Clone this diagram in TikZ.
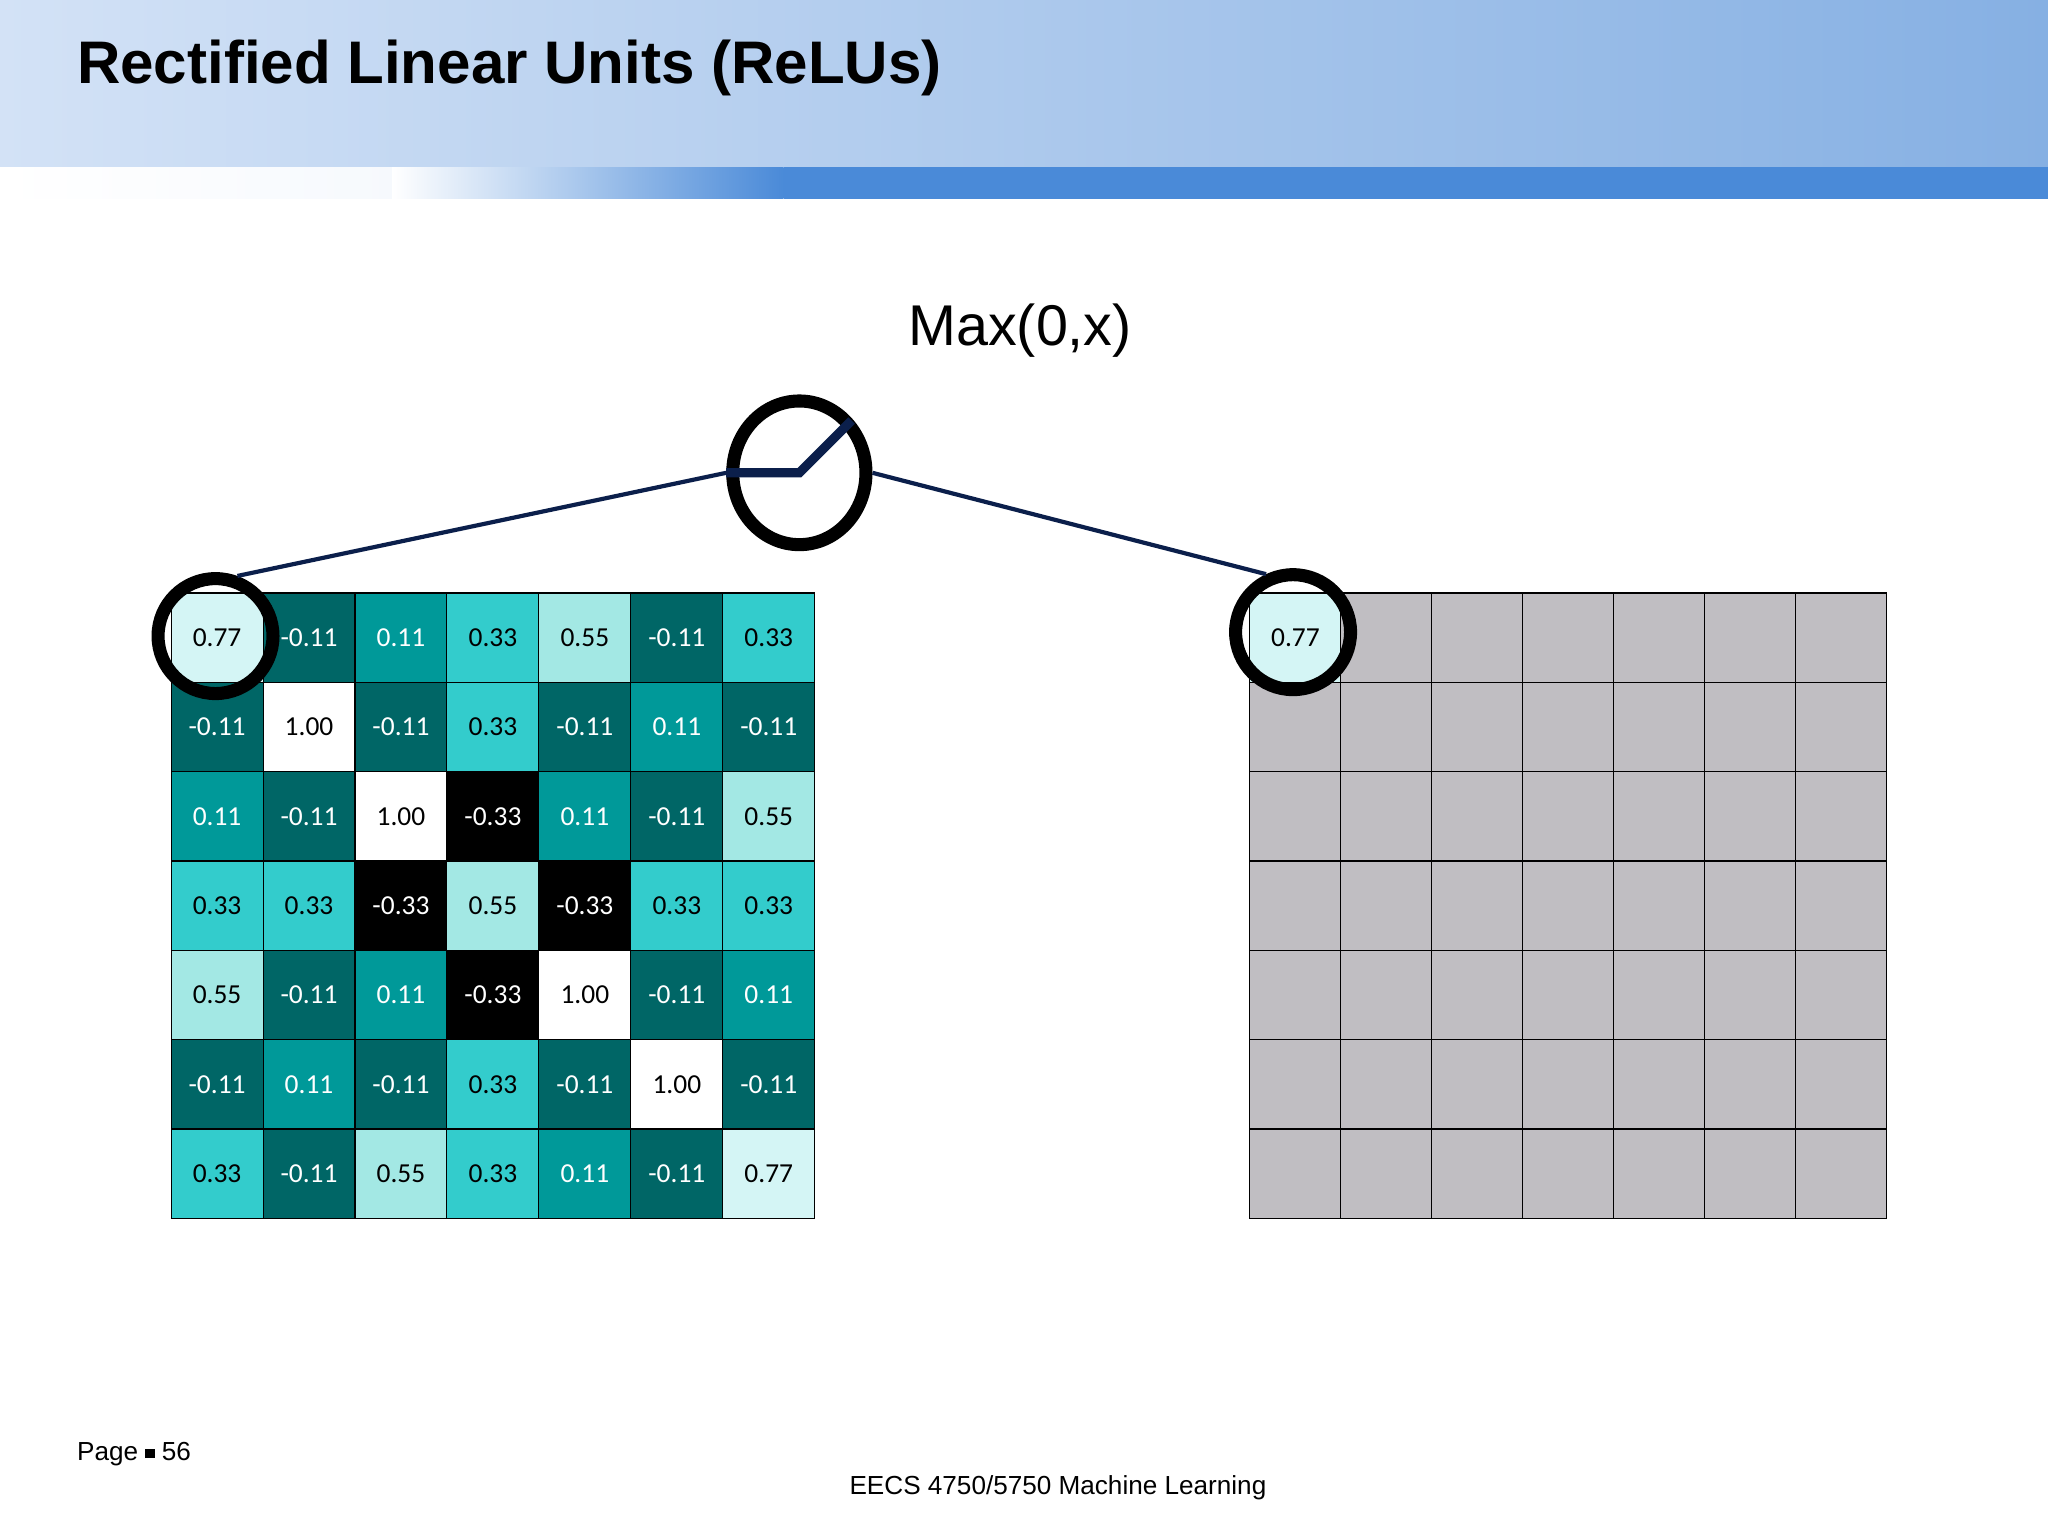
\documentclass[tikz,border=0pt]{standalone}
\usepackage{fontspec}
\setmainfont{Liberation Sans}
\newfontfamily\cellfont{Carlito}
\usetikzlibrary{shapes.geometric}
\begin{document}
\begin{tikzpicture}[x=0.5pt,y=-0.5pt,
  cellbox/.style={draw=black,line width=0.4pt,minimum width=35.2pt,minimum height=34.2pt,inner sep=0,font=\cellfont\fontsize{10.5}{12}\selectfont},
  graybox/.style={draw=black,line width=0.4pt,fill=cgray,minimum width=34.8pt,minimum height=34.2pt,inner sep=0},
  ring/.style={draw=black,line width=5pt},
  wire/.style={draw=navy,line width=1.6pt}]
\definecolor{cdark}{HTML}{006666}
\definecolor{cmid}{HTML}{009999}
\definecolor{clt}{HTML}{33CCCC}
\definecolor{cpale}{HTML}{A3E8E4}
\definecolor{cvpale}{HTML}{D4F5F5}
\definecolor{cgray}{HTML}{C0BEC2}
\definecolor{navy}{HTML}{0B1F4B}
\definecolor{hl}{HTML}{D3E2F6}
\definecolor{hr}{HTML}{86B0E3}
\definecolor{sb}{HTML}{4A8AD8}
\useasboundingbox (0,0) rectangle (1568,1176);
\fill[white] (0,0) rectangle (1568,1176);
\shade[left color=hl,right color=hr] (0,0) rectangle (1568,128);
\fill[sb] (600,128) rectangle (1568,152);
\shade[left color=white,right color=sb] (300,128) rectangle (600,152);
\shade[left color=white,right color=white!80!hl] (0,128) rectangle (300,152);
\node[anchor=west,font=\bfseries\fontsize{23}{26}\selectfont] (title) at (52,52) {Rectified Linear Units (ReLUs)};
\node[font=\fontsize{22}{26}\selectfont] (maxl) at (781,253) {Max(0,x)};
\node[anchor=west,font=\fontsize{10}{12}\selectfont] (page) at (52,1113) {Page \raisebox{0.15ex}{\rule{3.5pt}{3.5pt}} 56};
\node[font=\fontsize{10}{12}\selectfont] (foot) at (810,1139) {EECS 4750/5750 Machine Learning};
% left grid
\foreach \r/\row in {0/{0.77,-0.11,0.11,0.33,0.55,-0.11,0.33},1/{-0.11,1.00,-0.11,0.33,-0.11,0.11,-0.11},2/{0.11,-0.11,1.00,-0.33,0.11,-0.11,0.55},3/{0.33,0.33,-0.33,0.55,-0.33,0.33,0.33},4/{0.55,-0.11,0.11,-0.33,1.00,-0.11,0.11},5/{-0.11,0.11,-0.11,0.33,-0.11,1.00,-0.11},6/{0.33,-0.11,0.55,0.33,0.11,-0.11,0.77}}{
  \foreach \v [count=\c from 0] in \row {
    \def\fc{white}\def\tc{black}
    \ifdim\v pt=-0.11pt \def\fc{cdark}\def\tc{white}\fi
    \ifdim\v pt=0.11pt \def\fc{cmid}\def\tc{white}\fi
    \ifdim\v pt=0.33pt \def\fc{clt}\def\tc{black}\fi
    \ifdim\v pt=0.55pt \def\fc{cpale}\def\tc{black}\fi
    \ifdim\v pt=0.77pt \def\fc{cvpale}\def\tc{black}\fi
    \ifdim\v pt=-0.33pt \def\fc{black}\def\tc{white}\fi
    \node[cellbox,fill=\fc,text=\tc] (L\r\c) at ({166.2+70.4*\c},{488.2+68.4*\r}) {\v};
  }
}
% right grid
\foreach \r in {0,...,6}{\foreach \c in {0,...,6}{
  \node[graybox] (R\r\c) at ({991.8+69.6*\c},{488.2+68.4*\r}) {};
}}
\node[cellbox,fill=cvpale,draw=black,minimum width=34.8pt] (R00v) at (991.8,488.2) {0.77};
% circles and wires
\node[ring,circle,minimum width=44pt,minimum height=44pt] (cl) at (165,487) {};
\node[ring,circle,minimum width=44pt,minimum height=44pt] (cr) at (990,484) {};
\node[ring,ellipse,minimum width=51pt,minimum height=55pt] (relu) at (612,362) {};
\draw[wire] (cl.70) -- (relu.west);
\draw[wire] (relu.east) -- (cr.115);
\draw[navy,line width=3.5pt] (relu.west) -- (relu.center) -- (652,322);
\end{tikzpicture}
\end{document}
